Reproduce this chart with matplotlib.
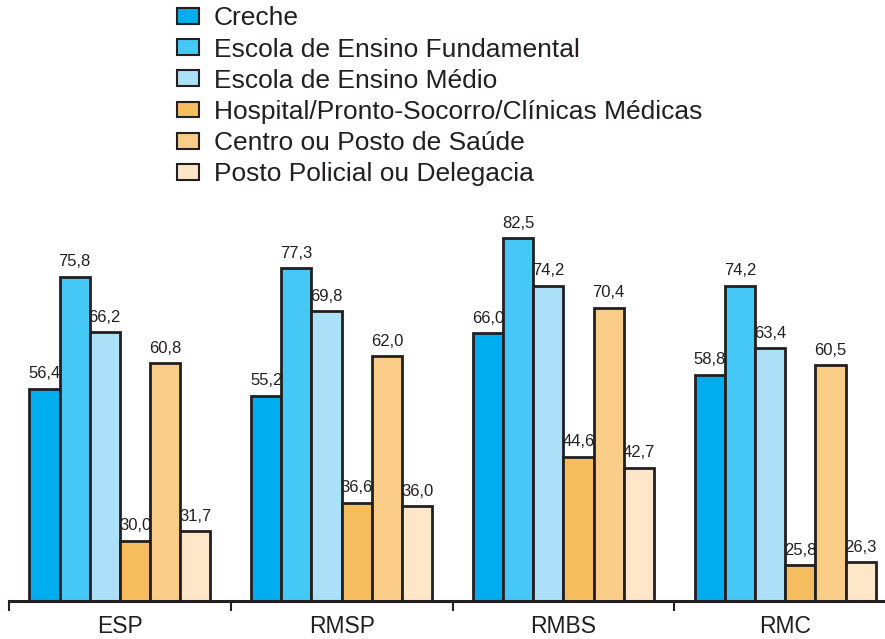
import matplotlib
matplotlib.use('Agg')

import numpy as np
import matplotlib.pyplot as plt
from matplotlib.patches import Patch

plt.rcParams['font.family'] = ['Liberation Sans', 'DejaVu Sans']

# data
regions = ['ESP', 'RMSP', 'RMBS', 'RMC']
series = ['Creche', 'Escola de Ensino Fundamental', 'Escola de Ensino Médio',
          'Hospital/Pronto-Socorro/Clínicas Médicas', 'Centro ou Posto de Saúde',
          'Posto Policial ou Delegacia']
creche = [56.4, 55.2, 66.0, 58.8]
fundamental = [75.8, 77.3, 82.5, 74.2]
medio = [66.2, 69.8, 74.2, 63.4]
hospital = [30.0, 36.6, 44.6, 25.8]
centro = [60.8, 62.0, 70.4, 60.5]
policia = [31.7, 36.0, 42.7, 26.3]
values = [creche, fundamental, medio, hospital, centro, policia]

colors = ['#00AEEF', '#45C8F5', '#ABE0F8', '#F5BD5E', '#F9CC87', '#FEE6C8']
edge = '#231F20'

fig = plt.figure(figsize=(8.85, 6.39), dpi=100)
ax = fig.add_axes([9/885, 38/639, 876/885, 401/639])

x = np.arange(len(regions))
w = 0.136
for i, (vals, c) in enumerate(zip(values, colors)):
    pos = x + (i - 2.5) * w
    ax.bar(pos, vals, width=w, color=c, edgecolor=edge, linewidth=2.0,
           zorder=2)
    for p, v in zip(pos, vals):
        ax.text(p, v + 1.3, f'{v:.1f}'.replace('.', ','), ha='center',
                va='bottom', fontsize=12, color='#231F20')

ax.set_ylim(19.6, 89.1)
ax.set_xlim(-0.5, 3.45)

for s in ['top', 'right', 'left']:
    ax.spines[s].set_visible(False)
ax.spines['bottom'].set_linewidth(2.2)
ax.spines['bottom'].set_color(edge)
ax.set_yticks([])
ax.set_xticks([-0.5, 0.5, 1.5, 2.5])
ax.set_xticklabels([])
ax.tick_params(axis='x', direction='out', length=7, width=1.5, color=edge)
for xi, r in zip(x, regions):
    ax.text(xi, -0.035, r, transform=ax.get_xaxis_transform(), ha='center',
            va='top', fontsize=16.5, color='#231F20')

handles = [Patch(facecolor=c, edgecolor=edge, linewidth=1.5) for c in colors]
fig.legend(handles, series, loc='upper left', bbox_to_anchor=(153/885, 1.027),
           frameon=False, fontsize=19, labelspacing=0.27, handlelength=0.85,
           handleheight=0.55, handletextpad=0.55, labelcolor='#231F20')

fig.savefig('out.png', dpi=100)
